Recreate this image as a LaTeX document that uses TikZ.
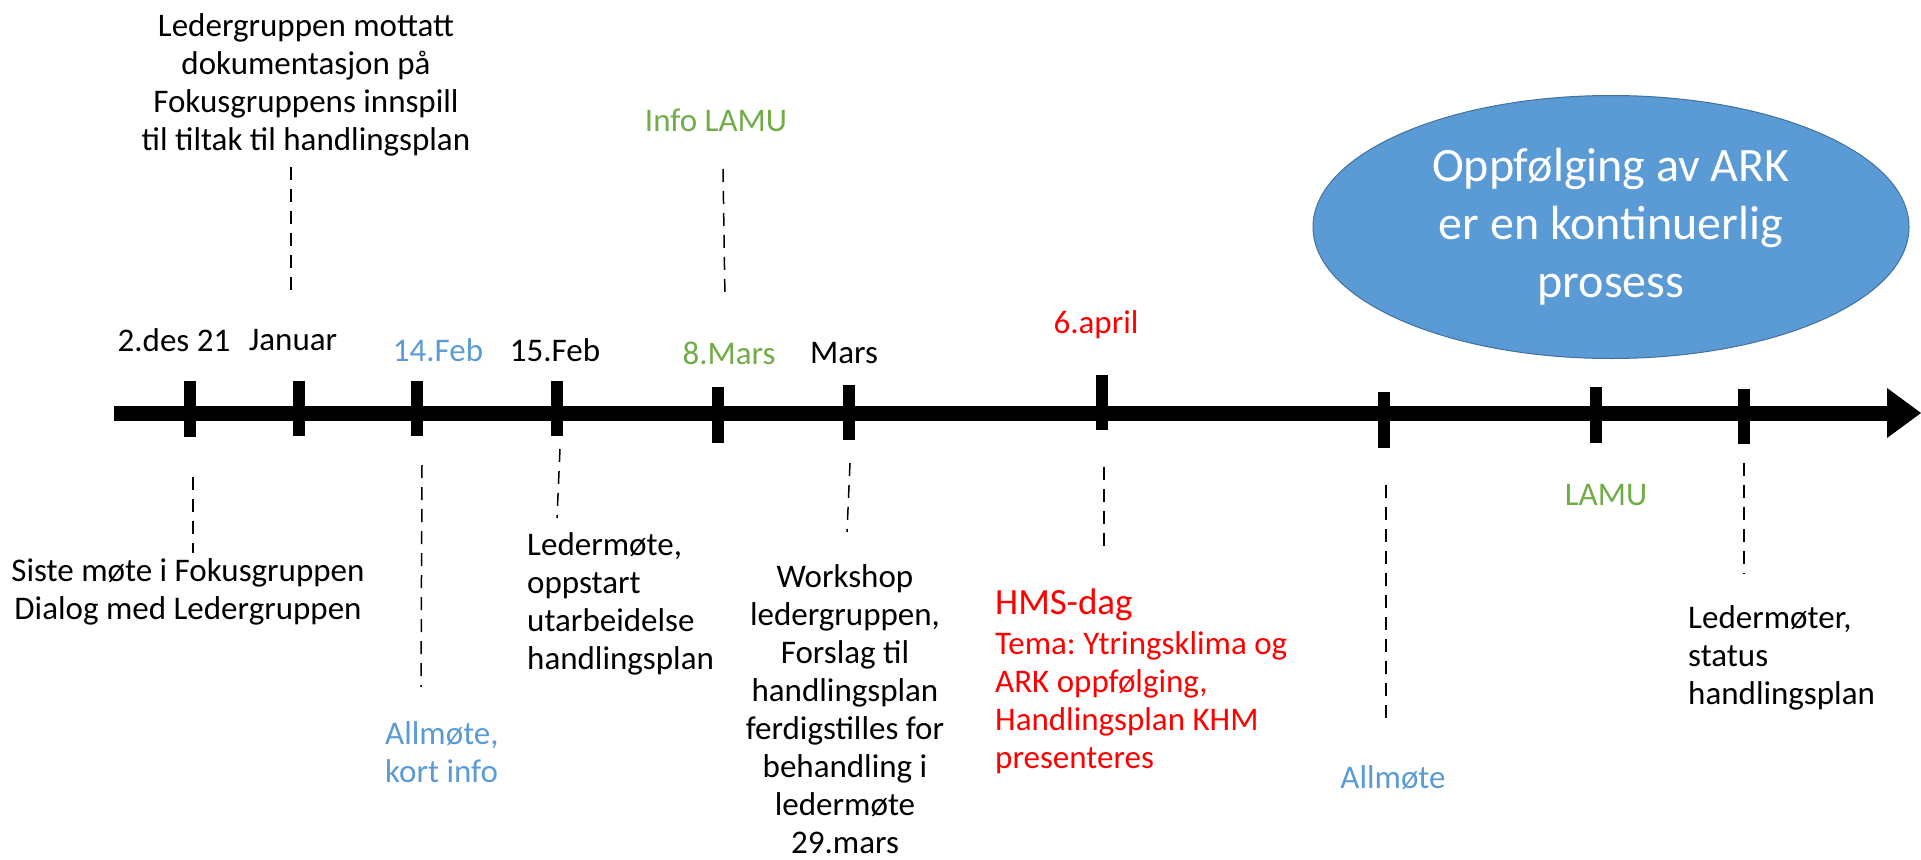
\documentclass[tikz,border=0pt]{standalone}
\usepackage{fontspec}
\setmainfont{Carlito}
\usetikzlibrary{arrows.meta,shapes.geometric}
\definecolor{kblue}{HTML}{5B9BD5}
\definecolor{kgreen}{HTML}{70AD47}
\definecolor{kedge}{HTML}{41719C}
\frenchspacing

\begin{document}
\begin{tikzpicture}[x=1pt,y=-1pt,
    lbl/.style={inner sep=0pt,align=center,font=\fontsize{33}{38}\selectfont},
    lblleft/.style={lbl,align=left,anchor=west},
    tickmark/.style={line width=12pt},
    guide/.style={line width=1.5pt,dash pattern=on 13pt off 9pt}]
        \useasboundingbox (0,0) rectangle (1921,859);

        \draw[line width=15pt,-{Triangle[length=34pt,width=50pt,line width=0pt]}] (114,413) -- (1921,413);
        \foreach \x/\a/\b in {190/381/437, 299/381/436, 417/381/436, 557/381/436, 718/387/443,
            849/385/440, 1102/375/430, 1384/392/448, 1596/387/443, 1744/389/444}
            \draw[tickmark] (\x,\a) -- (\x,\b);

        % dates above the line
        \node[lbl] (des) at (174,340) {2.des 21};
        \node[lbl] (jan) at (293,340) {Januar};
        \node[lbl,text=kblue] (feb14) at (438,350) {14.Feb};
        \node[lbl] (feb15) at (555,350) {15.Feb};
        \node[lbl,text=kgreen] (mar8) at (729,353) {8.Mars};
        \node[lbl] (mar) at (844,353) {Mars};
        \node[lbl,text=red] (apr6) at (1096,325) {6.april};

        % above
        \node[lbl] (mottatt) at (306,85) {Ledergruppen mottatt\\dokumentasjon på\\Fokusgruppens innspill\\til tiltak til handlingsplan};
        \node[lbl,text=kgreen] (infolamu) at (716,120) {Info LAMU};
        \node[ellipse,draw=kedge,line width=1pt,fill=kblue,inner sep=0pt,minimum width=596pt,minimum height=263pt,
            text=white,align=center,font=\fontsize{48}{58}\selectfont] (ark) at (1611,227)
            {Oppfølging av ARK\\er en kontinuerlig\\prosess};

        % below
        \node[lbl] (siste) at (188,592) {Siste møte i Fokusgruppen\\Dialog med Ledergruppen};
        \node[lblleft,text=kblue] (allmote1) at (385,752) {Allmøte,\\kort info};
        \node[lblleft] (ledermote) at (527,604) {Ledermøte,\\oppstart\\utarbeidelse\\handlingsplan};
        \node[lbl] (workshop) at (845,709) {Workshop\\ledergruppen,\\Forslag til\\handlingsplan\\ferdigstilles for\\behandling i\\ledermøte\\29.mars};
        \node[lblleft,text=red,font=\fontsize{37}{44}\selectfont] (hms) at (995,605) {HMS-dag};
        \node[lblleft,text=red] (tema) at (995,703) {Tema: Ytringsklima og\\ARK oppfølging,\\Handlingsplan KHM\\presenteres};
        \node[lbl,text=kblue] (allmote2) at (1393,778) {Allmøte};
        \node[lbl,text=kgreen] (lamu) at (1606,495) {LAMU};
        \node[lblleft] (ledermoter) at (1688,658) {Ledermøter,\\status\\handlingsplan};

        % dashed guides
        \coordinate (g1a) at (291,167);  \coordinate (g1b) at (291,297);
        \coordinate (g2a) at (723,169);  \coordinate (g2b) at (725,300);
        \coordinate (g3a) at (193,477);  \coordinate (g3b) at (193,553);
        \coordinate (g4a) at (422,465);  \coordinate (g4b) at (421,687);
        \coordinate (g5a) at (560,449);  \coordinate (g5b) at (557,518);
        \coordinate (g6a) at (850,463);  \coordinate (g6b) at (847,532);
        \coordinate (g7a) at (1104,467); \coordinate (g7b) at (1104,546);
        \coordinate (g8a) at (1386,485); \coordinate (g8b) at (1386,725);
        \coordinate (g9a) at (1744,463); \coordinate (g9b) at (1744,574);
        \foreach \g in {g1,g2,g3,g4,g5,g6,g7,g8,g9}
            \draw[guide] (\g a) -- (\g b);

      \end{tikzpicture}
\end{document}
